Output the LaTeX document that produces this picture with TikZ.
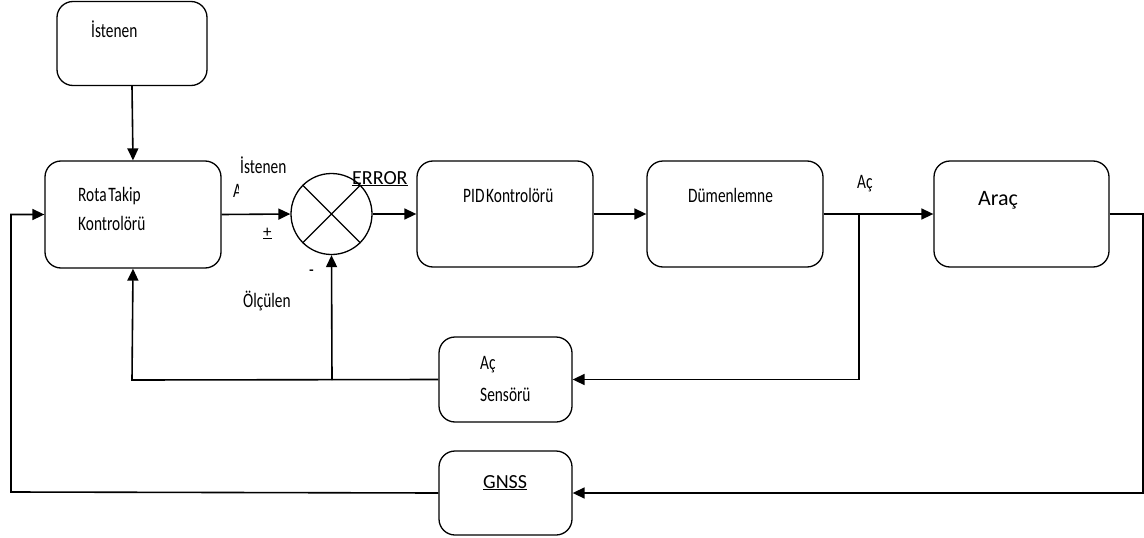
\documentclass[tikz,border=0pt]{standalone}
\usepackage{fontspec}
\setmainfont{Carlito}
\newfontfamily\cond[FakeStretch=0.75,WordSpace=0.5]{Carlito}
\usetikzlibrary{arrows.meta,calc}
\begin{document}
\begin{tikzpicture}[x=1pt,y=-1pt,
  blockbox/.style={draw,line width=1.3pt,rounded corners=16pt,inner sep=0pt},
  sumjoint/.style={draw,circle,line width=1.3pt,minimum size=81pt,inner sep=0pt},
  link/.style={line width=1.6pt},
  flow/.style={link,-{Triangle[length=12pt,width=11pt]}},
  lbl/.style={anchor=base west,inner sep=0pt,font=\cond\fontsize{20.5}{24}\selectfont},
  biglbl/.style={anchor=base west,inner sep=0pt,font=\fontsize{20}{24}\selectfont}]
\useasboundingbox (0,0) rectangle (1144,538);

% blocks
\node[blockbox,minimum width=150pt,minimum height=84pt] (ref) at (132,43.5) {};
\node[blockbox,minimum width=176pt,minimum height=107pt] (rota) at (133,214.5) {};
\node[sumjoint] (sum) at (331.5,214) {};
\draw[line width=1.3pt] (sum.45) -- (sum.225) (sum.135) -- (sum.315);
\node[blockbox,minimum width=176pt,minimum height=106pt] (pid) at (505,214) {};
\node[blockbox,minimum width=176pt,minimum height=106pt] (dum) at (735,214) {};
\node[blockbox,minimum width=175pt,minimum height=106pt] (arac) at (1021.5,214) {};
\node[blockbox,minimum width=133pt,minimum height=85pt] (sens) at (505.5,379.5) {};
\node[blockbox,minimum width=133pt,minimum height=84pt] (gnss) at (505.5,493) {};

% block texts
\node[lbl] (tref) at (91,37) {İstenen};
\node[lbl] (trota1) at (78,201.5) {Rota Takip};
\node[lbl] (trota2) at (78,230) {Kontrolörü};
\node[lbl] (tpid) at (463,202) {PID Kontrolörü};
\node[lbl] (tdum) at (688,202) {Dümenlemne};
\node[anchor=base west,inner sep=0pt,font=\fontsize{22}{26}\selectfont] (tarac) at (978,205) {Araç};
\node[lbl] (tsens1) at (480,369) {Aç};
\node[lbl] (tsens2) at (480,401) {Sensörü};
\node[biglbl] (tgnss) at (483,488) {\underline{GNSS}};

% signal labels
\node[lbl] (tist) at (240,173) {İstenen};
\begin{scope}
  \clip (230,180) rectangle (238.5,200);
  \node[lbl] (tacl) at (233,197) {A};
\end{scope}
\node[anchor=base west,inner sep=0pt,font=\fontsize{17}{20}\selectfont] (tplus) at (263,237) {\underline{+}};
\node[lbl] (tminus) at (309,276) {-};
\node[lbl] (tolc) at (243,307) {Ölçülen};
\node[biglbl] (terr) at (352,184) {\underline{ERROR}};
\node[lbl] (tac) at (857,188) {Aç};

% forward path
\draw[flow] (ref.south) -- (rota.north);
\draw[flow] (rota.east) -- (sum.west);
\draw[flow] (sum.east) -- (pid.west);
\draw[flow] (pid.east) -- (dum.west);
\draw[flow] (dum.east) -- (arac.west);

% inner feedback through the angle sensor
\coordinate (tap) at (859,214);
\coordinate (fbl) at (132,380);
\coordinate (fbm) at (332,380);
\draw[flow] (tap) |- (sens.east);
\draw[flow] (sens.west) -- (fbl) -- (rota.south);
\draw[flow] (fbm) -- (sum.south);

% outer feedback through GNSS
\coordinate (outr) at (1143,214);
\coordinate (outl) at (11,492);
\draw[flow] (arac.east) -- (outr) |- (gnss.east);
\draw[flow] (gnss.west) -- (outl) |- (rota.west);
\end{tikzpicture}
\end{document}
